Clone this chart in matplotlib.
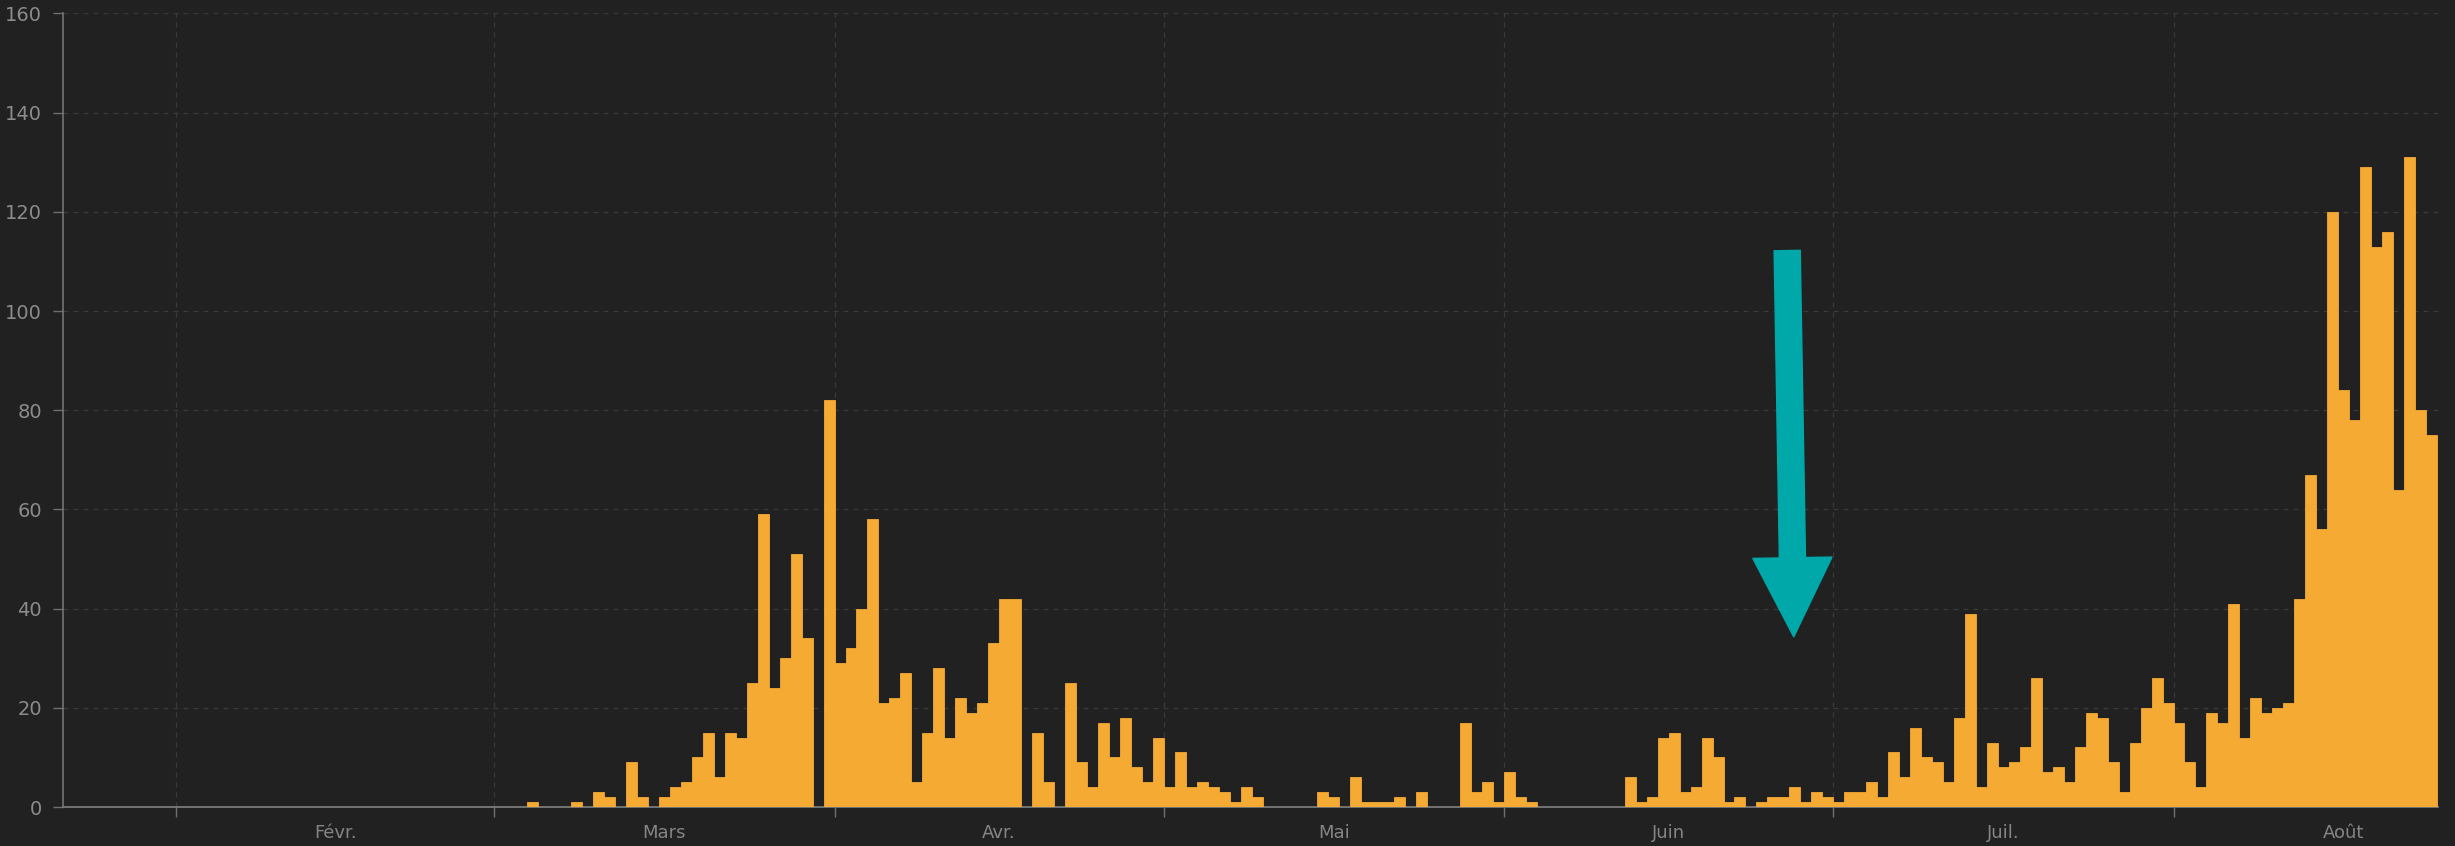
import numpy as np
import matplotlib.pyplot as plt
import matplotlib.dates as mdates

# Daily counts, 22 Jan 2020 -> 24 Aug 2020
first_day = np.datetime64('2020-01-22')
jan = [0, 0, 0, 0, 0, 0, 0, 0, 0, 0]
feb = [0, 0, 0, 0, 0, 0, 0, 0, 0, 0, 0, 0, 0, 0, 0, 0, 0, 0, 0, 0,
       0, 0, 0, 0, 0, 0, 0, 0, 0]
mar = [0, 0, 0, 1, 0, 0, 0, 1, 0, 3, 2, 0, 9, 2, 0, 2, 4, 5, 10, 15,
       6, 15, 14, 25, 59, 24, 30, 51, 34, 0, 82]
apr = [29, 32, 40, 58, 21, 22, 27, 5, 15, 28, 14, 22, 19, 21, 33, 42, 42, 0, 15, 5,
       0, 25, 9, 4, 17, 10, 18, 8, 5, 14]
may = [4, 11, 4, 5, 4, 3, 1, 4, 2, 0, 0, 0, 0, 0, 3, 2, 0, 6, 1, 1,
       1, 2, 0, 3, 0, 0, 0, 17, 3, 5, 1]
jun = [7, 2, 1, 0, 0, 0, 0, 0, 0, 0, 0, 6, 1, 2, 14, 15, 3, 4, 14, 10,
       1, 2, 0, 1, 2, 2, 4, 1, 3, 2]
jul = [1, 3, 3, 5, 2, 11, 6, 16, 10, 9, 5, 18, 39, 4, 13, 8, 9, 12, 26, 7,
       8, 5, 12, 19, 18, 9, 3, 13, 20, 26, 21]
aug = [17, 9, 4, 19, 17, 41, 14, 22, 19, 20, 21, 42, 67, 56, 120, 84, 78, 129, 113, 116,
       64, 131, 80, 75]

month_labels = ['Févr.', 'Mars', 'Avr.', 'Mai', 'Juin', 'Juil.', 'Août']
y_ticks = [0, 20, 40, 60, 80, 100, 120, 140, 160]

cases = jan + feb + mar + apr + may + jun + jul + aug
days = first_day + np.arange(len(cases))
x = mdates.date2num(days)

month_starts = np.arange('2020-02', '2020-09', dtype='datetime64[M]')
starts = mdates.date2num(month_starts.astype('datetime64[D]'))
ends = mdates.date2num((month_starts + 1).astype('datetime64[D]'))
mids = (starts + ends) / 2

bg = '#212121'
bar_color = '#f5aa33'
grey = '#8c8c8c'

fig = plt.figure(figsize=(24.55, 8.46), dpi=100, facecolor=bg)
ax = fig.add_axes([63 / 2455, 1 - 807 / 846, (2438 - 63) / 2455, (807 - 13.5) / 846])
ax.set_facecolor(bg)

ax.bar(x, cases, width=1.0, align='edge', color=bar_color,
       edgecolor=bar_color, linewidth=0.6, zorder=2)

ax.set_xlim(x[0] - 0.3, x[-1] + 1.1)
ax.set_ylim(0, 160)

# month boundaries as major ticks, labels centred on each month
ax.set_xticks(starts)
ax.set_xticklabels([])
ax.set_xticks(mids, minor=True)
ax.set_xticklabels(month_labels, minor=True)
ax.tick_params(axis='x', which='major', length=7, width=1, color='#6e6e6e')
ax.tick_params(axis='x', which='minor', length=0, pad=12, labelsize=13, labelcolor='#858585')

ax.set_yticks(y_ticks)
ax.tick_params(axis='y', length=7, width=1, color='#6e6e6e', pad=8,
               labelsize=14, labelcolor=grey)

ax.grid(True, which='major', color='#3a3a3a', linestyle=(0, (4, 4)), linewidth=0.9, zorder=0)
ax.set_axisbelow(True)

for side in ['top', 'right']:
    ax.spines[side].set_visible(False)
ax.spines['left'].set_color('#7a7a7a')
ax.spines['left'].set_linewidth(1.1)
ax.spines['bottom'].set_color('#7a7a7a')
ax.spines['bottom'].set_linewidth(1.3)
ax.spines['bottom'].set_zorder(1.9)

# teal arrow pointing at the June lull
feb1 = mdates.date2num(np.datetime64('2020-02-01'))
ax.annotate('', xy=(feb1 + 147.4, 34.3), xytext=(feb1 + 146.8, 112.2),
            arrowprops=dict(arrowstyle='simple,head_length=1.0,head_width=1.0,tail_width=0.33',
                            mutation_scale=57, color='#00a8aa', shrinkA=0, shrinkB=0),
            zorder=5)

fig.savefig('out.png', dpi=100, facecolor=bg)
